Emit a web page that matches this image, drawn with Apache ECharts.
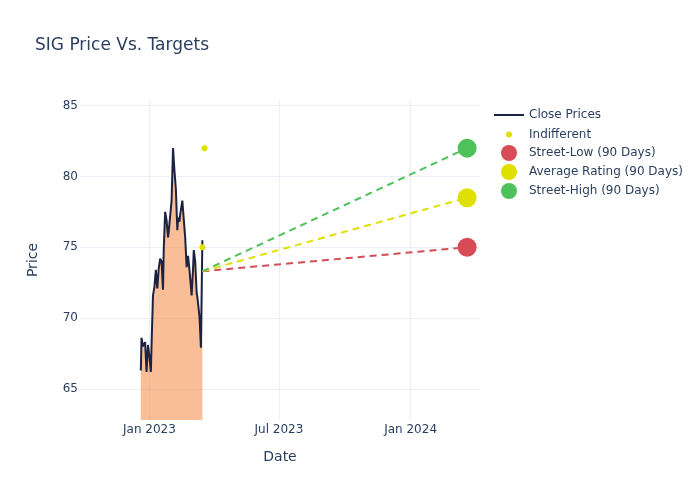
<!DOCTYPE html>
<html>
<head>
<meta charset="utf-8">
<script src="https://cdn.jsdelivr.net/npm/echarts@6/dist/echarts.min.js"></script>
<style>
html,body{margin:0;padding:0;background:#fff;}
#chart{width:700px;height:500px;}
</style>
</head>
<body>
<div id="chart"></div>
<script>
// ---- data ----
var closeDates = ['2022-12-20','2022-12-21','2022-12-23','2022-12-26','2022-12-27','2022-12-28','2022-12-30','2023-01-01','2023-01-03','2023-01-04','2023-01-06','2023-01-08','2023-01-10','2023-01-12','2023-01-14','2023-01-16','2023-01-18','2023-01-20','2023-01-21','2023-01-23','2023-01-25','2023-01-27','2023-01-28','2023-01-30','2023-02-01','2023-02-03','2023-02-05','2023-02-07','2023-02-09','2023-02-10','2023-02-12','2023-02-13','2023-02-16','2023-02-18','2023-02-20','2023-02-22','2023-02-24','2023-02-26','2023-02-27','2023-03-01','2023-03-03','2023-03-04','2023-03-06','2023-03-08','2023-03-09','2023-03-12','2023-03-14','2023-03-15','2023-03-16'];
var closeValues = [66.3,68.6,68.0,68.3,68.2,66.2,68.1,67.3,66.2,68.1,71.6,72.2,73.4,72.1,73.5,74.2,74.0,72.0,74.8,77.5,76.9,75.7,76.1,76.2,78.3,82.0,80.4,79.1,76.2,77.1,76.8,77.3,78.3,77.0,75.7,73.6,74.4,73.4,73.4,71.6,73.5,74.8,74.0,71.8,71.5,70.1,67.9,68.0,75.5];

var indifferentDates = ['2023-03-19','2023-03-16'];
var indifferentValues = [82, 75];

var targetNames = ['Street-Low (90 Days)','Average Rating (90 Days)','Street-High (90 Days)'];
var targetValues = [75, 78.5, 82];
var targetColors = ['#d64b55','#e0e000','#4fc15b'];
var targetDate = '2024-03-20';
var dashStartDate = '2023-03-16';
var dashStartValue = 73.3;

var xTickDates = ['2023-01-01','2023-07-01','2024-01-01'];
var xTickLabels = ['Jan 2023','Jul 2023','Jan 2024'];
var yTickValues = [65, 70, 75, 80, 85];
var xRange = ['2022-09-26','2024-04-07'];

// ---- chart ----
function ts(d){ var p = d.split('-'); return Date.UTC(+p[0], +p[1]-1, +p[2]); }
var chart = echarts.init(document.getElementById('chart'));
var txt = '#2a3f5f';
var font = 'DejaVu Sans';
var xTickTs = xTickDates.map(ts);

var series = [];
series.push({
  name: 'Close Prices', type: 'line', showSymbol: false, symbol: 'none',
  data: closeDates.map(function(d,i){ return [ts(d), closeValues[i]]; }),
  lineStyle: {color: '#1c2340', width: 2},
  itemStyle: {color: '#1c2340'},
  areaStyle: {color: 'rgba(244,124,50,0.5)', origin: 'start', opacity: 1},
  z: 2
});
targetNames.forEach(function(n, i){
  series.push({
    name: n + ' line', type: 'line', symbol: 'none',
    data: [[ts(dashStartDate), dashStartValue],[ts(targetDate), targetValues[i]]],
    lineStyle: {color: targetColors[i], width: 2, type: [7,5]},
    z: 3, silent: true
  });
});
series.push({
  name: 'Indifferent', type: 'scatter', symbolSize: 6,
  data: indifferentDates.map(function(d,i){ return [ts(d), indifferentValues[i]]; }),
  itemStyle: {color: '#e0e000', opacity: 1}, z: 4
});
targetNames.forEach(function(n, i){
  series.push({
    name: n, type: 'scatter', symbolSize: 19,
    data: [[ts(targetDate), targetValues[i]]],
    itemStyle: {color: targetColors[i], opacity: 1}, z: 5
  });
});

function legendFor(name, icon, h, left, top, color){
  return {
    data: [{name: name, icon: icon, itemStyle: {color: color}}],
    left: left, top: top, padding: 0, itemWidth: 30, itemHeight: h, itemGap: 0,
    textStyle: {color: txt, fontFamily: font, fontSize: 12, lineHeight: 14},
    selectedMode: false
  };
}

var option = {
  backgroundColor: '#fff',
  animation: false,
  textStyle: {fontFamily: font},
  title: {
    text: 'SIG Price Vs. Targets', left: 35, top: 37, padding: 0,
    textStyle: {color: txt, fontFamily: font, fontSize: 17, fontWeight: 'normal'}
  },
  legend: [
    legendFor('Close Prices', 'rect', 2, 494, 108, '#1c2340'),
    legendFor('Indifferent', 'circle', 6, 506, 127.5, '#e0e000'),
    legendFor(targetNames[0], 'circle', 16, 501, 145, targetColors[0]),
    legendFor(targetNames[1], 'circle', 16, 501, 164, targetColors[1]),
    legendFor(targetNames[2], 'circle', 16, 501, 183, targetColors[2])
  ],
  grid: {left: 80, right: 220, top: 100, bottom: 80, containLabel: false},
  xAxis: {
    type: 'value',
    min: ts(xRange[0]), max: ts(xRange[1]),
    name: 'Date', nameLocation: 'middle', nameGap: 30,
    nameTextStyle: {color: txt, fontFamily: font, fontSize: 14},
    axisLine: {show: false},
    axisTick: {show: false, customValues: xTickTs},
    axisLabel: {
      customValues: xTickTs, color: txt, fontFamily: font, fontSize: 12, margin: 4,
      formatter: function(v){
        var idx = xTickTs.indexOf(+v);
        return idx >= 0 ? xTickLabels[idx] : '';
      }
    },
    splitLine: {show: true, lineStyle: {color: '#ebf0f8', width: 1}}
  },
  yAxis: {
    type: 'value', min: 62.8, max: 85.4,
    name: 'Price', nameLocation: 'middle', nameGap: 40,
    nameTextStyle: {color: txt, fontFamily: font, fontSize: 14},
    axisLine: {show: false},
    axisTick: {show: false, customValues: yTickValues},
    axisLabel: {customValues: yTickValues, color: txt, fontFamily: font, fontSize: 12, margin: 2},
    splitLine: {show: true, lineStyle: {color: '#ebf0f8', width: 1}}
  },
  series: series
};
chart.setOption(option);
</script>
</body>
</html>
